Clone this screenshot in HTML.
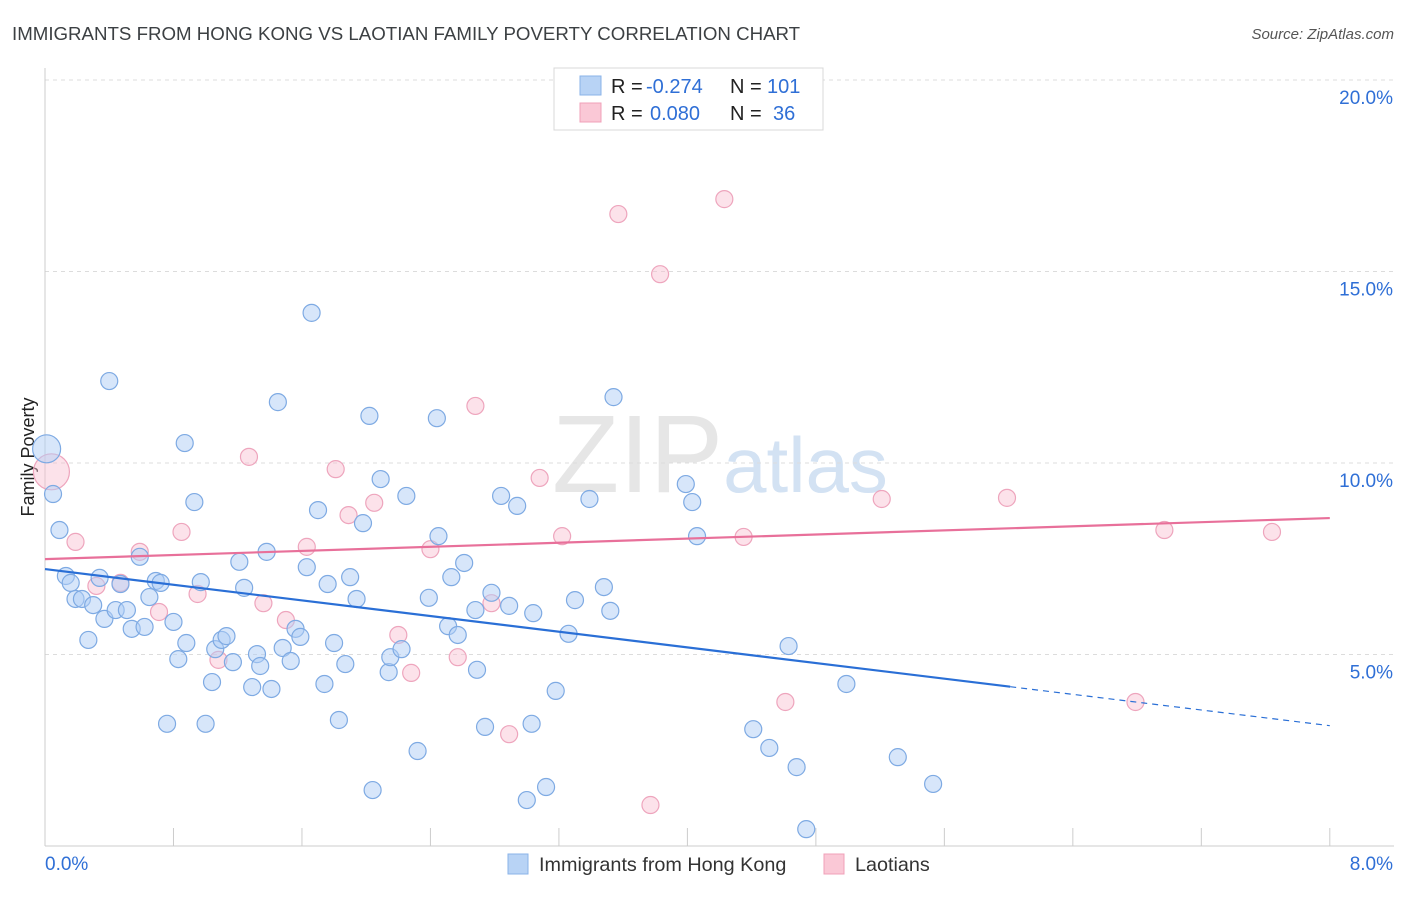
<!DOCTYPE html>
<html><head><meta charset="utf-8"><style>
body{margin:0;background:#fff;font-family:"Liberation Sans",sans-serif;}
svg text{font-family:"Liberation Sans",sans-serif;}
</style></head><body>
<svg id="chart" width="1406" height="892" xmlns="http://www.w3.org/2000/svg">
<text x="12" y="40" font-size="18.7" fill="#3c4043">IMMIGRANTS FROM HONG KONG VS LAOTIAN FAMILY POVERTY CORRELATION CHART</text>
<text x="1394" y="39" font-size="15" fill="#555" font-style="italic" text-anchor="end">Source: ZipAtlas.com</text>
<text x="720" y="492" font-size="110" text-anchor="middle" fill="#e6e6e6" font-family="Liberation Serif">ZIP<tspan fill="#d3e2f3" font-family="Liberation Sans" font-size="78">atlas</tspan></text>
<text transform="translate(34,457) rotate(-90)" font-size="18" fill="#222" text-anchor="middle">Family Poverty</text>
<g id="grid"></g><g id="pink"></g><g id="blue"></g><g id="trend"></g>
<g>
<rect x="554" y="68" width="269" height="62" fill="#fff" stroke="#d8d8d8"/>
<rect x="580" y="76" width="21" height="19" fill="#b8d3f5" stroke="#8ab3e8"/>
<rect x="580" y="103" width="21" height="19" fill="#fac8d6" stroke="#f0a0b8"/>
<text x="611" y="93" font-size="20" fill="#222">R =</text>
<text x="646" y="93" font-size="20" fill="#2f6fd6">-0.274</text>
<text x="730" y="93" font-size="20" fill="#222">N =</text>
<text x="767" y="93" font-size="20" fill="#2f6fd6">101</text>
<text x="611" y="120" font-size="20" fill="#222">R =</text>
<text x="650" y="120" font-size="20" fill="#2f6fd6">0.080</text>
<text x="730" y="120" font-size="20" fill="#222">N =</text>
<text x="773" y="120" font-size="20" fill="#2f6fd6">36</text>
</g>
<g>
<rect x="508" y="854" width="20" height="20" fill="#b8d3f5" stroke="#8ab3e8"/>
<text x="539" y="871" font-size="19.8" fill="#333">Immigrants from Hong Kong</text>
<rect x="824" y="854" width="20" height="20" fill="#fac8d6" stroke="#f0a0b8"/>
<text x="855" y="871" font-size="19.8" fill="#333">Laotians</text>
</g>
</svg>
<script>
const blueX=[.01,.05,.09,.13,.16,.19,.23,.27,.30,.34,.37,.40,.44,.47,.51,.54,.59,.62,.65,.69,.72,.76,.80,.83,.87,.88,.93,.97,1.00,1.04,1.06,1.10,1.13,1.17,1.21,1.24,1.29,1.32,1.34,1.38,1.41,1.45,1.48,1.53,1.56,1.59,1.63,1.66,1.70,1.74,1.76,1.80,1.83,1.87,1.90,1.94,1.98,2.02,2.04,2.09,2.14,2.15,2.22,2.25,2.32,2.39,2.44,2.45,2.51,2.53,2.57,2.61,2.69,2.68,2.74,2.78,2.84,2.89,2.94,3.00,3.03,3.04,3.12,3.18,3.26,3.30,3.39,3.48,3.52,3.54,3.99,4.03,4.06,4.41,4.51,4.63,4.68,4.74,4.99,5.31,5.53];
const blueY=[10.37,9.19,8.25,7.05,6.87,6.45,6.45,5.38,6.29,7.00,5.93,12.14,6.16,6.84,6.16,5.67,7.55,5.72,6.50,6.92,6.87,3.19,5.85,4.88,10.52,5.30,8.98,6.89,3.19,4.28,5.14,5.38,5.48,4.80,7.42,6.74,4.15,5.01,4.70,7.68,4.10,11.59,5.17,4.83,5.67,5.46,7.28,13.92,8.77,4.23,6.84,5.30,3.29,4.75,7.02,6.45,8.43,11.23,1.46,9.58,4.54,4.93,5.14,9.14,2.48,6.48,11.17,8.09,5.74,7.02,5.51,7.39,4.60,6.16,3.11,6.61,9.14,6.27,8.88,1.20,3.19,6.08,1.54,4.05,5.54,6.42,9.06,6.76,6.14,11.72,9.45,8.98,8.09,3.05,2.56,5.22,2.06,0.44,4.23,2.32,1.62];
const pinkX=[.04,.19,.32,.47,.59,.71,.85,.95,1.08,1.27,1.36,1.50,1.63,1.81,1.89,2.05,2.20,2.28,2.40,2.57,2.68,2.78,2.89,3.08,3.22,3.57,3.77,3.83,4.23,4.35,4.61,5.21,5.99,6.79,6.97,7.64];
const pinkY=[9.77,7.94,6.79,6.87,7.68,6.11,8.20,6.58,4.86,10.16,6.34,5.90,7.81,9.84,8.64,8.96,5.51,4.52,7.75,4.93,11.49,6.34,2.92,9.61,8.09,16.50,1.07,14.93,16.89,8.07,3.76,9.06,9.09,3.76,8.25,8.20];
const blueTrend=[7.23,-0.511]; // intercept, slope
const pinkTrend=[7.49,0.134];
const yTicks=[5,10,15,20];
const xTickLabels=["0.0%","8.0%"];
const NS="http://www.w3.org/2000/svg";
const sx=v=>45+v*160.6, sy=v=>846-v*38.3;
function mk(tag,attrs,parent){const e=document.createElementNS(NS,tag);for(const k in attrs)e.setAttribute(k,attrs[k]);document.getElementById(parent).appendChild(e);return e;}
for(const t of yTicks){
 const l=mk('line',{x1:45,x2:1394,y1:sy(t),y2:sy(t),stroke:'#dcdcdc','stroke-dasharray':'4,4'},'grid');
 
 
 const tx=mk('text',{x:1393,y:sy(t)+24,'font-size':19,fill:'#2f6fd6','text-anchor':'end'},'grid');
 tx.textContent=t.toFixed(1)+'%';
 
 
}
const ax=mk('line',{x1:45,x2:1394,y1:846,y2:846,stroke:'#ccc'},'grid');


const ay=mk('line',{x1:45,x2:45,y1:68,y2:846,stroke:'#ccc'},'grid');


for(let i=0;i<=10;i++){
 const t=mk('line',{x1:sx(i*0.8),x2:sx(i*0.8),y1:828,y2:846,stroke:'#ccc'},'grid');
 
 
}
[[0,'start',45],[8,'end',1393]].forEach((d,i)=>{
 const t=mk('text',{x:d[2],y:870,'font-size':19,fill:'#2f6fd6','text-anchor':d[1]},'grid');
 t.textContent=xTickLabels[i];
 
 
});
pinkX.forEach((x,i)=>{
 const c=mk('circle',{cx:sx(x),cy:sy(pinkY[i]),r:i==0?18:8.5,fill:'rgba(248,190,208,0.45)',stroke:'#eea5bd','stroke-width':1.2},'pink');
 
 
});
blueX.forEach((x,i)=>{
 const c=mk('circle',{cx:sx(x),cy:sy(blueY[i]),r:i==0?14:8.5,fill:'rgba(176,205,245,0.5)',stroke:'#7eaae3','stroke-width':1.2},'blue');
 
 
});
const bEnd=6.01;
const b1=mk('line',{x1:sx(0),y1:sy(blueTrend[0]),x2:sx(bEnd),y2:sy(blueTrend[0]+blueTrend[1]*bEnd),stroke:'#2a6fd6','stroke-width':2.2},'trend');


const b2=mk('line',{x1:sx(bEnd),y1:sy(blueTrend[0]+blueTrend[1]*bEnd),x2:sx(8),y2:sy(blueTrend[0]+blueTrend[1]*8),stroke:'#2a6fd6','stroke-width':1.2,'stroke-dasharray':'6,5'},'trend');


const p1=mk('line',{x1:sx(0),y1:sy(pinkTrend[0]),x2:sx(8),y2:sy(pinkTrend[0]+pinkTrend[1]*8),stroke:'#e8709a','stroke-width':2.2},'trend');


</script>
</body></html>
